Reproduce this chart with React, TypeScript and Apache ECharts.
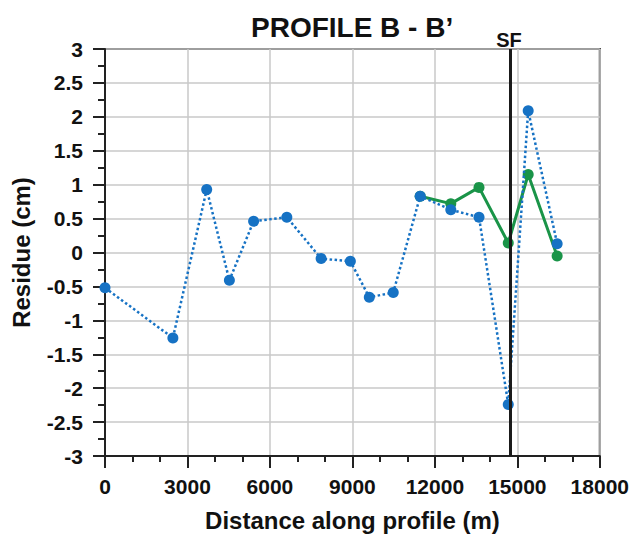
import React, { useEffect, useRef } from "react";
import * as echarts from "echarts";

const blueX = [0, 2470, 3700, 4525, 5406, 6615, 7862, 8926, 9615, 10486, 11466, 12580, 13606, 14670, 15395, 16448];
const blueY = [-0.52, -1.26, 0.93, -0.41, 0.46, 0.52, -0.09, -0.13, -0.66, -0.59, 0.83, 0.63, 0.52, -2.24, 2.09, 0.13];
const greenX = [11466, 12580, 13606, 14670, 15395, 16448];
const greenY = [0.83, 0.72, 0.96, 0.14, 1.15, -0.05];
const sfX = 14730;
const sfLabel = "SF";
const titleText = "PROFILE B - B\u2019";
const xName = "Distance along profile (m)";
const yName = "Residue (cm)";

const FONT = "'Liberation Sans', Arial, sans-serif";

export default function App() {
  const ref = useRef<HTMLDivElement>(null);
  useEffect(() => {
    if (!ref.current) return;
    const chart = echarts.init(ref.current, undefined, { renderer: "svg" });
    const blue = blueX.map((x, i) => [x, blueY[i]]);
    const green = greenX.map((x, i) => [x, greenY[i]]);
    chart.setOption({
      animation: false,
      backgroundColor: "#ffffff",
      textStyle: { fontFamily: FONT },
      title: {
        text: titleText,
        left: 246,
        top: 8,
        textStyle: { fontFamily: FONT, fontSize: 28, fontWeight: "bold", color: "#111" },
      },
      grid: {
        left: 105,
        right: 31,
        top: 49,
        bottom: 76,
        show: true,
        borderColor: "#222",
        borderWidth: 2,
        backgroundColor: "transparent",
      },
      xAxis: {
        type: "value",
        min: 0,
        max: 18000,
        interval: 3000,
        name: xName,
        nameLocation: "middle",
        nameGap: 52,
        nameTextStyle: { fontFamily: FONT, fontSize: 24, fontWeight: "bold", color: "#111" },
        axisLine: { show: true, onZero: false, lineStyle: { color: "#222", width: 2 } },
        axisTick: { show: true, inside: false, length: 12, lineStyle: { color: "#222", width: 2 } },
        minorTick: { show: true, splitNumber: 3, length: 6, lineStyle: { color: "#222", width: 2 } },
        axisLabel: {
          margin: 20,
          fontFamily: FONT,
          fontSize: 21,
          fontWeight: "bold",
          color: "#111",
          formatter: (v: number) => String(v),
        },
        splitLine: { show: true, lineStyle: { color: "#c8c8c8", width: 1.5 } },
      },
      yAxis: {
        type: "value",
        min: -3,
        max: 3,
        interval: 0.5,
        name: yName,
        nameLocation: "middle",
        nameGap: 72,
        nameTextStyle: { fontFamily: FONT, fontSize: 24, fontWeight: "bold", color: "#111" },
        axisLine: { show: true, onZero: false, lineStyle: { color: "#222", width: 2 } },
        axisTick: { show: true, inside: false, length: 12, lineStyle: { color: "#222", width: 2 } },
        minorTick: { show: true, splitNumber: 2, length: 7, lineStyle: { color: "#222", width: 2 } },
        axisLabel: {
          margin: 22,
          fontFamily: FONT,
          fontSize: 21,
          fontWeight: "bold",
          color: "#111",
          formatter: (v: number) => String(v),
        },
        splitLine: { show: true, lineStyle: { color: "#c8c8c8", width: 1.5 } },
      },
      series: [
        {
          name: "SF",
          type: "line",
          data: [],
          z: 1,
          markLine: {
            silent: true,
            symbol: ["none", "none"],
            lineStyle: { color: "#1a1a1a", width: 3, type: "solid" },
            label: {
              show: true,
              position: "end",
              formatter: sfLabel,
              fontFamily: FONT,
              fontSize: 20,
              fontWeight: "bold",
              color: "#111",
              distance: 0,
              offset: [-1, 1],
            },
            data: [{ xAxis: sfX }],
          },
        },
        {
          name: "green",
          type: "line",
          data: green,
          z: 2,
          symbol: "circle",
          symbolSize: 11,
          itemStyle: { color: "#1a9448" },
          lineStyle: { color: "#1a9448", width: 3, type: "solid" },
        },
        {
          name: "blue",
          type: "line",
          data: blue,
          z: 3,
          symbol: "circle",
          symbolSize: 11,
          itemStyle: { color: "#1672c4" },
          lineStyle: { color: "#1672c4", width: 2.5, type: "dotted" },
        },
      ],
    });
    return () => chart.dispose();
  }, []);
  return (
    <div
      ref={ref}
      style={{ position: "fixed", left: 0, top: 0, width: 632, height: 537, background: "#fff" }}
    />
  );
}
